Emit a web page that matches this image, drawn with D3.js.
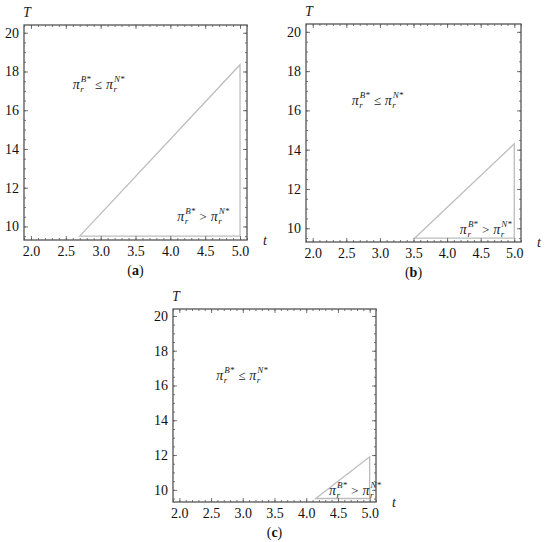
<!DOCTYPE html>
<html>
<head>
<meta charset="utf-8">
<script src="https://cdn.jsdelivr.net/npm/d3@7"></script>
<style>
  body { margin: 0; background: #fff; }
</style>
</head>
<body>
<div id="chart"></div>
<script>
let width = 550;
let height = 542;

// shared axes of the three panels
let tDomain = [1.9, 5.1];
let TDomain = [9.3, 20.4];
let tTicks = [2.0, 2.5, 3.0, 3.5, 4.0, 4.5, 5.0];
let TTicks = [10, 12, 14, 16, 18, 20];

// boundary of the region pi_r^B* > pi_r^N* (t, T)
let regionA = [[2.70, 9.5], [5.0, 18.35], [5.0, 9.5]];
let regionB = [[3.52, 9.5], [5.0, 14.3], [5.0, 9.5]];
let regionC = [[4.15, 9.5], [5.0, 11.9], [5.0, 9.5]];

let captions = ["a", "b", "c"];

// frame boxes and where the two inequality labels sit (in data units)
let panels = [
  { cap: captions[0], region: regionA, box: [24, 247, 25, 240], upper: [2.6, 17.1], lower: [4.1, 10.3] },
  { cap: captions[1], region: regionB, box: [306, 521, 24, 242], upper: [2.58, 16.3], lower: [4.19, 9.7] },
  { cap: captions[2], region: regionC, box: [173, 376, 309, 502], upper: [2.58, 16.3], lower: [4.36, 9.72] }
];

let serif = "'Liberation Serif', 'DejaVu Serif', serif";
let frameColor = "#555555";

let svg = d3.select("#chart")
  .append("svg")
  .attr("width", width)
  .attr("height", height)
  .style("background-color", "#ffffff");

panels.forEach(p => drawPanel(svg, p));

function drawPanel(svg, p) {
  let [x0, x1, y0, y1] = p.box;
  let x = d3.scaleLinear().domain(tDomain).range([x0, x1]);
  let y = d3.scaleLinear().domain(TDomain).range([y1, y0]);
  let g = svg.append("g").attr("id", "panel-" + p.cap);

  // region boundary
  g.append("path")
    .attr("d", d3.line().x(d => x(d[0])).y(d => y(d[1])).curve(d3.curveLinearClosed)(p.region))
    .attr("fill", "none")
    .attr("stroke", "#bdbdbd")
    .attr("stroke-width", 1.3);

  // minor ticks on all four sides
  let minorT = x.ticks(32);
  let minorY = y.ticks(22);
  g.append("g").attr("transform", `translate(0,${y1})`)
    .call(d3.axisBottom(x).tickValues(minorT).tickFormat("").tickSize(-2).tickSizeOuter(0));
  g.append("g").attr("transform", `translate(0,${y0})`)
    .call(d3.axisTop(x).tickValues(minorT).tickFormat("").tickSize(-2).tickSizeOuter(0));
  g.append("g").attr("transform", `translate(${x0},0)`)
    .call(d3.axisLeft(y).tickValues(minorY).tickFormat("").tickSize(-2).tickSizeOuter(0));
  g.append("g").attr("transform", `translate(${x1},0)`)
    .call(d3.axisRight(y).tickValues(minorY).tickFormat("").tickSize(-2).tickSizeOuter(0));

  // major ticks with labels
  g.append("g").attr("class", "xaxis").attr("transform", `translate(0,${y1})`)
    .call(d3.axisBottom(x).tickValues(tTicks).tickFormat(d3.format(".1f")).tickSize(-4).tickSizeOuter(0).tickPadding(6));
  g.append("g").attr("transform", `translate(0,${y0})`)
    .call(d3.axisTop(x).tickValues(tTicks).tickFormat("").tickSize(-4).tickSizeOuter(0));
  g.append("g").attr("class", "yaxis").attr("transform", `translate(${x0},0)`)
    .call(d3.axisLeft(y).tickValues(TTicks).tickFormat(d3.format("d")).tickSize(-4).tickSizeOuter(0).tickPadding(5));
  g.append("g").attr("transform", `translate(${x1},0)`)
    .call(d3.axisRight(y).tickValues(TTicks).tickFormat("").tickSize(-4).tickSizeOuter(0));

  g.selectAll(".domain").remove();
  g.selectAll(".tick line").attr("stroke", frameColor).attr("stroke-width", 0.8);
  g.selectAll(".tick text")
    .attr("font-family", serif)
    .attr("font-size", 14)
    .attr("fill", "#111");

  g.append("rect")
    .attr("x", x0).attr("y", y0)
    .attr("width", x1 - x0).attr("height", y1 - y0)
    .attr("fill", "none")
    .attr("stroke", frameColor)
    .attr("stroke-width", 1.3);

  // axis titles
  g.append("text")
    .attr("x", x0 - 1).attr("y", y0 - 8)
    .attr("font-family", serif).attr("font-style", "italic").attr("font-size", 14)
    .attr("fill", "#222")
    .text("T");
  g.append("text")
    .attr("x", x1 + 16).attr("y", y1 + 5)
    .attr("font-family", serif).attr("font-style", "italic").attr("font-size", 14)
    .attr("fill", "#222")
    .text("t");

  drawIneq(g, x(p.upper[0]), y(p.upper[1]), "\u2264");
  drawIneq(g, x(p.lower[0]), y(p.lower[1]), ">");

  // caption
  let cap = g.append("text")
    .attr("x", (x0 + x1) / 2).attr("y", y1 + 35)
    .attr("text-anchor", "middle")
    .attr("font-family", serif).attr("font-size", 14)
    .attr("fill", "#111");
  cap.append("tspan").text("(");
  cap.append("tspan").attr("font-weight", "bold").text(p.cap);
  cap.append("tspan").text(")");
}

// pi_r^{B*} rel pi_r^{N*}
function drawIneq(g, x, y, rel) {
  let cx = x;
  cx = drawPi(g, cx, y, "B*");
  cx += 4;
  let r = g.append("text")
    .attr("x", cx).attr("y", y)
    .attr("font-family", serif).attr("font-size", 13)
    .attr("fill", "#222")
    .text(rel);
  cx += r.node().getComputedTextLength() + 4;
  drawPi(g, cx, y, "N*");
}

function drawPi(g, x, y, sup) {
  let pi = g.append("text")
    .attr("x", x).attr("y", y)
    .attr("font-family", serif).attr("font-style", "italic").attr("font-size", 14)
    .attr("fill", "#222")
    .text("\u03c0");
  let cx = x + pi.node().getComputedTextLength() + 0.5;
  let sub = g.append("text")
    .attr("x", cx).attr("y", y + 3)
    .attr("font-family", serif).attr("font-style", "italic").attr("font-size", 9)
    .attr("fill", "#222")
    .text("r");
  let sp = g.append("text")
    .attr("x", cx + 0.5).attr("y", y - 7)
    .attr("font-family", serif).attr("font-style", "italic").attr("font-size", 9)
    .attr("fill", "#222")
    .text(sup);
  return cx + Math.max(sub.node().getComputedTextLength(), sp.node().getComputedTextLength() + 0.5);
}
</script>
</body>
</html>
